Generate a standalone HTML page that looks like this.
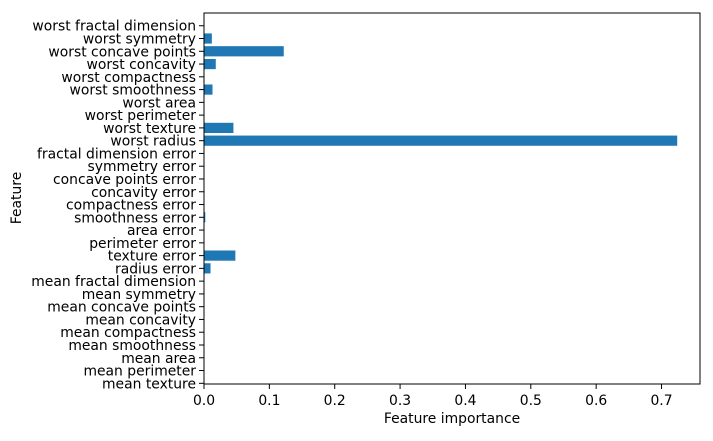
<!DOCTYPE html>
<html><head><meta charset="utf-8"><style>
body{margin:0;background:#fff;}
svg text{font-family:"DejaVu Sans","Liberation Sans",sans-serif;font-size:13.9px;fill:#000;}
</style></head><body>
<svg id="chart" width="713" height="436" viewBox="0 0 713 436" xmlns="http://www.w3.org/2000/svg">
<g id="bars"></g>
<g id="yaxis"></g>
<g id="xaxis"></g>
<rect x="204" y="13" width="496" height="371" fill="none" stroke="#000" stroke-width="1"/>
<text x="452" y="423" text-anchor="middle">Feature importance</text>
<text transform="translate(21,198) rotate(-90)" text-anchor="middle">Feature</text>
</svg>
<script>
const features = ["mean texture","mean perimeter","mean area","mean smoothness","mean compactness","mean concavity","mean concave points","mean symmetry","mean fractal dimension","radius error","texture error","perimeter error","area error","smoothness error","compactness error","concavity error","concave points error","symmetry error","fractal dimension error","worst radius","worst texture","worst perimeter","worst area","worst smoothness","worst compactness","worst concavity","worst concave points","worst symmetry","worst fractal dimension"];
const importances = [0,0,0,0,0,0,0,0,0,0.010,0.048,0,0,0.002,0,0,0,0,0,0.724,0.045,0,0,0.013,0,0.018,0.122,0.012,0];
const xTicks = [0,0.1,0.2,0.3,0.4,0.5,0.6,0.7];
const xTickLabels = ["0.0","0.1","0.2","0.3","0.4","0.5","0.6","0.7"];

const NS="http://www.w3.org/2000/svg";
const x0=204, pxPerUnit=653.6;
function xs(v){return x0+v*pxPerUnit;}
function ys(i){return 383.3-i*12.77;}
const barH=10.2;
const gb=document.getElementById('bars'), gy=document.getElementById('yaxis'), gx=document.getElementById('xaxis');
features.forEach((f,i)=>{
  const v=importances[i];
  const r=document.createElementNS(NS,'rect');
  
  
  r.setAttribute('x',xs(0));r.setAttribute('y',ys(i)-barH/2);
  r.setAttribute('width',Math.max(0,xs(v)-xs(0)));r.setAttribute('height',barH);
  r.setAttribute('fill','#1f77b4');
  gb.appendChild(r);
  const t=document.createElementNS(NS,'line');
  
  
  t.setAttribute('x1',199);t.setAttribute('x2',204);t.setAttribute('y1',ys(i));t.setAttribute('y2',ys(i));
  t.setAttribute('stroke','#000');
  gy.appendChild(t);
  const l=document.createElementNS(NS,'text');
  
  
  l.setAttribute('x',196);l.setAttribute('y',ys(i)+5);l.setAttribute('text-anchor','end');
  l.textContent=f;
  gy.appendChild(l);
});
xTicks.forEach((v,i)=>{
  const t=document.createElementNS(NS,'line');
  
  
  t.setAttribute('x1',xs(v));t.setAttribute('x2',xs(v));t.setAttribute('y1',384);t.setAttribute('y2',389);
  t.setAttribute('stroke','#000');
  gx.appendChild(t);
  const l=document.createElementNS(NS,'text');
  
  
  l.setAttribute('x',xs(v));l.setAttribute('y',405);l.setAttribute('text-anchor','middle');
  l.textContent=xTickLabels[i];
  gx.appendChild(l);
});
</script>
</body></html>
